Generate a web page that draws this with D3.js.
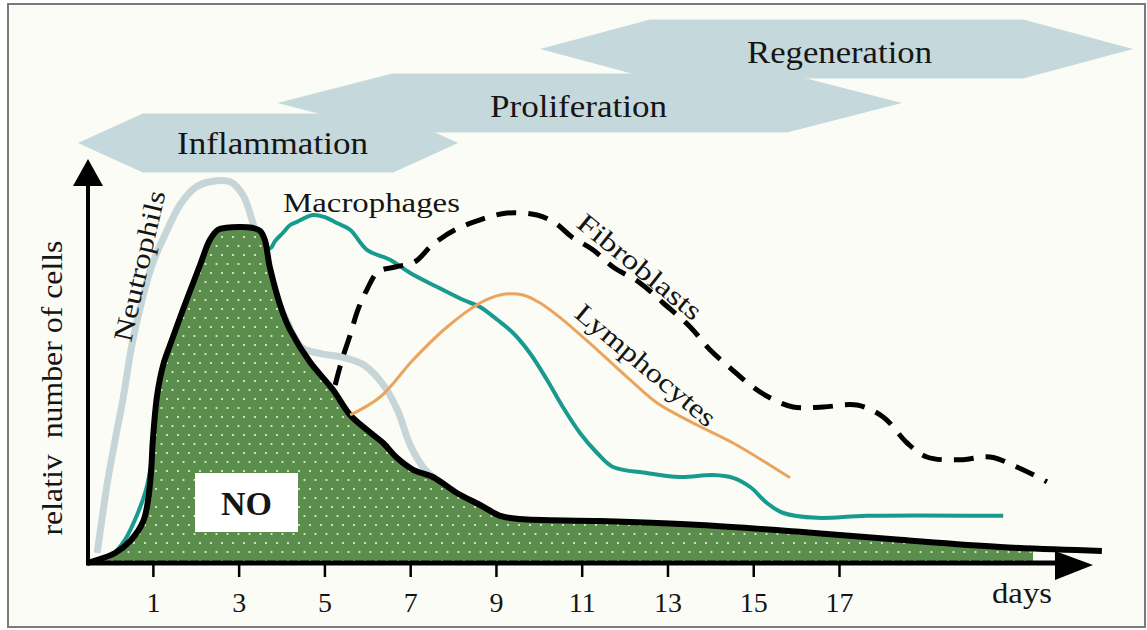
<!DOCTYPE html>
<html>
<head>
<meta charset="utf-8">
<script src="https://cdn.jsdelivr.net/npm/d3@7"></script>
<style>
body { margin: 0; background: #fff; }
text { font-family: "Liberation Serif", "Times New Roman", serif; fill: #151515; }
</style>
</head>
<body>
<svg id="chart" width="1147" height="630"></svg>
<script>
// x tick labels (days)
const dayTicks = [1, 3, 5, 7, 9, 11, 13, 15, 17];

// curves as [day, relative number]
const noCells = [[-0.54, 0], [-0.23, 1], [0.12, 2.5], [0.47, 5.5], [0.77, 10.3], [0.89, 15.8], [0.96, 23.3], [1.0, 30.8],
  [1.1, 42], [1.24, 49.5], [1.4, 54.5], [1.7, 63.3], [2.1, 74.5], [2.33, 80.8], [2.52, 83.3], [2.71, 83.8], [3.31, 83.8],
  [3.5, 83], [3.61, 80.8], [3.73, 73.8], [4.03, 62.5], [4.2, 58.3], [4.66, 50.3], [5.2, 43.3], [5.6, 37], [5.99, 33.3],
  [6.37, 30], [6.69, 26.3], [7.07, 23.3], [7.53, 21.5], [8.09, 17.5], [8.63, 14.5], [9.1, 11.8], [9.56, 11], [11.43, 10.5],
  [13.76, 9.5], [16.09, 7.8], [18.42, 5.8], [20.76, 4], [23.13, 3]];

const neutrophils = [[-0.3, 2.5], [-0.19, 10.8], [-0.05, 20.8], [0.12, 30.8], [0.3, 40.8], [0.51, 54.5], [0.75, 65.8],
  [0.98, 74.5], [1.28, 82], [1.63, 89.5], [1.98, 93.8], [2.33, 95.3], [2.8, 95.3], [3.1, 92], [3.31, 85.8], [3.5, 78.3],
  [3.78, 68.8], [4.13, 60.3], [4.48, 53.8], [4.94, 52.3], [5.48, 51.3], [5.95, 49.3], [6.41, 44], [6.72, 37.8],
  [7.0, 29.5], [7.35, 23.3], [7.63, 20.8]];

const macrophages = [[0.05, 1.8], [0.35, 5.8], [0.63, 12], [0.84, 18.3], [1.17, 35.8], [1.87, 58.3], [2.8, 73.3],
  [3.54, 78.3], [3.75, 78.8], [3.85, 80.5], [4.03, 82.5], [4.2, 84.5], [4.36, 85.3], [4.73, 87], [5.0, 86.5], [5.29, 85],
  [5.6, 83.3], [5.99, 78.3], [6.53, 75.8], [7.0, 72.5], [7.63, 69], [8.23, 65.8], [8.63, 64], [9.03, 60.8], [9.4, 57.5],
  [9.79, 52.5], [10.19, 45.8], [10.56, 39], [10.96, 32.5], [11.36, 27.5], [11.73, 24], [12.52, 22.5], [13.29, 21.5],
  [14.06, 22], [14.53, 21.3], [14.93, 19], [15.32, 15], [15.7, 12.5], [16.49, 11.3], [17.65, 11.8], [20.83, 11.8]];

const lymphocytes = [[5.6, 37], [6.3, 41.5], [7.07, 50.8], [7.86, 59], [8.63, 65], [9.1, 67], [9.63, 67], [10.03, 65],
  [10.56, 60.8], [11.36, 53.3], [12.13, 45.8], [12.76, 40], [13.69, 34.5], [14.53, 30], [15.86, 21.3]];

const fibroblasts = [[5.25, 44.5], [5.41, 50.8], [5.6, 57], [5.78, 63.3], [5.99, 68.3], [6.25, 72.8], [6.65, 74],
  [7.11, 75.3], [7.51, 79.5], [8.05, 83.3], [8.63, 85.8], [9.26, 87.5], [9.96, 87], [10.38, 85], [10.77, 81.5],
  [11.26, 78.3], [11.73, 74], [12.36, 70], [12.9, 65], [13.53, 59], [13.99, 53.3], [14.46, 48.8], [14.93, 44.5],
  [15.39, 41.3], [15.93, 39], [16.63, 39], [17.42, 39.5], [18.03, 36.5], [18.59, 30], [19.05, 26.5], [19.82, 25.8],
  [20.52, 26.5], [21.15, 24], [21.85, 20.3]];

// phases (day span of each banner)
const phases = ["Inflammation", "Proliferation", "Regeneration"];
const phaseFrom = [-0.75, 3.9, 10.03];
const phaseTo = [8.12, 18.47, 23.86];

const svg = d3.select("#chart");

const x = d3.scaleLinear().domain([0, 17]).range([110, 839]);
const y = d3.scaleLinear().domain([0, 100]).range([563, 163]);

const defs = svg.append("defs");
const pat = defs.append("pattern")
  .attr("id", "dots").attr("patternUnits", "userSpaceOnUse")
  .attr("width", 11).attr("height", 18);
pat.append("rect").attr("width", 11).attr("height", 18).attr("fill", "#5b8d4c");
pat.append("circle").attr("cx", 2).attr("cy", 3).attr("r", 1.1).attr("fill", "#e8f0dc");
pat.append("circle").attr("cx", 7.5).attr("cy", 12).attr("r", 1.1).attr("fill", "#e8f0dc");

defs.append("clipPath").attr("id", "fillClip")
  .append("rect").attr("x", 0).attr("y", 0).attr("width", 1033).attr("height", 630);

// background + frame
svg.append("rect").attr("x", 8).attr("y", 4).attr("width", 1137).attr("height", 623)
  .attr("fill", "#fcfcf6").attr("stroke", "#7a7a7a").attr("stroke-width", 2);

// phase banners
const bandY = [143, 103, 49], bandHalf = 29.5, tipW = [65, 115, 110];
phases.forEach((p, i) => {
  const x0 = x(phaseFrom[i]), x1 = x(phaseTo[i]), c = bandY[i], t = tipW[i];
  const pts = [[x0, c], [x0 + t, c - bandHalf], [x1 - t, c - bandHalf], [x1, c], [x1 - t, c + bandHalf], [x0 + t, c + bandHalf]];
  svg.append("polygon").attr("points", pts.map(d => d.join(",")).join(" ")).attr("fill", "#c5d9dc");
});
const phaseLabelX = [177, 490, 747], phaseLabelY = [154, 117, 63], phaseLabelW = [191, 177, 185];
phases.forEach((p, i) => {
  svg.append("text").attr("x", phaseLabelX[i]).attr("y", phaseLabelY[i])
    .attr("font-size", 32).attr("textLength", phaseLabelW[i]).attr("lengthAdjust", "spacingAndGlyphs")
    .text(p);
});

const line = d3.line().x(d => x(d[0])).y(d => y(d[1])).curve(d3.curveCatmullRom.alpha(0.5));
const area = d3.area().x(d => x(d[0])).y0(y(0)).y1(d => y(d[1])).curve(d3.curveCatmullRom.alpha(0.5));

// neutrophils (behind)
svg.append("path").attr("d", line(neutrophils)).attr("fill", "none")
  .attr("stroke", "#c6d6d8").attr("stroke-width", 7).attr("stroke-linejoin", "round");

// macrophages
svg.append("path").attr("d", line(macrophages)).attr("fill", "none")
  .attr("stroke", "#199a8e").attr("stroke-width", 4).attr("stroke-linejoin", "round");

// NO area
svg.append("path").attr("d", area(noCells)).attr("fill", "url(#dots)").attr("clip-path", "url(#fillClip)");
svg.append("path").attr("d", line(noCells)).attr("fill", "none")
  .attr("stroke", "#000").attr("stroke-width", 6).attr("stroke-linejoin", "round");

// lymphocytes
svg.append("path").attr("d", line(lymphocytes)).attr("fill", "none")
  .attr("stroke", "#eba45c").attr("stroke-width", 3);

// fibroblasts
svg.append("path").attr("d", line(fibroblasts)).attr("fill", "none")
  .attr("stroke", "#000").attr("stroke-width", 5).attr("stroke-dasharray", "20,12");

// axes
svg.append("line").attr("x1", 88).attr("y1", y(0)).attr("x2", 88).attr("y2", 180)
  .attr("stroke", "#000").attr("stroke-width", 4);
svg.append("polygon").attr("points", "88,159 73,186 103,186").attr("fill", "#000");
svg.append("line").attr("x1", 86).attr("y1", y(0)).attr("x2", 1060).attr("y2", y(0))
  .attr("stroke", "#000").attr("stroke-width", 5);
svg.append("polygon").attr("points", "1093,565 1055,551 1055,580").attr("fill", "#000");

const xAxis = svg.append("g").attr("transform", `translate(0,${y(0)})`)
  .call(d3.axisBottom(x).tickValues(dayTicks).tickSize(14).tickPadding(15).tickFormat(d3.format("d")));
xAxis.select(".domain").remove();
xAxis.selectAll(".tick line").attr("stroke", "#000").attr("stroke-width", 2.5);
xAxis.selectAll(".tick text").attr("font-size", 28).attr("fill", "#151515")
  .style("font-family", "'Liberation Serif', 'Times New Roman', serif");

svg.append("text").attr("x", 992).attr("y", 603).attr("font-size", 29)
  .attr("textLength", 60).attr("lengthAdjust", "spacingAndGlyphs").text("days");

// y label
svg.append("text").attr("transform", "translate(62,388) rotate(-90)").attr("text-anchor", "middle")
  .attr("font-size", 29).attr("textLength", 295).attr("lengthAdjust", "spacingAndGlyphs")
  .style("white-space", "pre").text("relativ  number of cells");

// NO box
svg.append("rect").attr("x", 195).attr("y", 473).attr("width", 103).attr("height", 59).attr("fill", "#fff");
svg.append("text").attr("x", 246.5).attr("y", 515).attr("text-anchor", "middle")
  .attr("font-size", 34).attr("font-weight", "bold").text("NO");

// series labels
svg.append("text").attr("x", 283).attr("y", 212).attr("font-size", 27)
  .attr("textLength", 177).attr("lengthAdjust", "spacingAndGlyphs").text("Macrophages");
svg.append("text").attr("transform", "translate(131,343) rotate(-77)").attr("font-size", 27)
  .attr("textLength", 154).attr("lengthAdjust", "spacingAndGlyphs").text("Neutrophils");
svg.append("text").attr("transform", "translate(575,226) rotate(39)").attr("font-size", 27)
  .attr("textLength", 152).attr("lengthAdjust", "spacingAndGlyphs").text("Fibroblasts");
svg.append("text").attr("transform", "translate(573,316) rotate(40)").attr("font-size", 27)
  .attr("textLength", 175).attr("lengthAdjust", "spacingAndGlyphs").text("Lymphocytes");
</script>
</body>
</html>
